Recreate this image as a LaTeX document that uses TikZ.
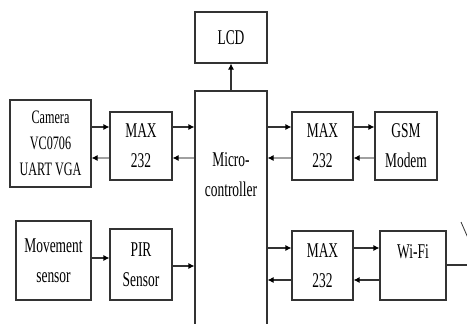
\documentclass[tikz,border=0pt]{standalone}
\usepackage{fontspec}
\setmainfont[FakeStretch=0.64]{Liberation Serif}
\usetikzlibrary{arrows.meta}
\definecolor{edge}{HTML}{333333}
\definecolor{back}{HTML}{A0A0A0}
\tikzset{
  blk/.style={draw=edge, line width=1.1pt, inner sep=0pt, align=center,
    font=\fontsize{21}{30}\selectfont},
  txt/.style={inner sep=0pt, align=center, font=\fontsize{21}{30}\selectfont},
  fwd/.style={draw=edge, line width=1.1pt, -{Latex[length=6pt,width=6pt,color=black]}},
  bwd/.style={draw=back, line width=1.1pt, -{Latex[length=6pt,width=6pt,color=black]}},
}
\begin{document}
\begin{tikzpicture}[x=1pt,y=-1pt]
\useasboundingbox (0,0) rectangle (467,324);
% boxes
\node[blk, minimum width=72pt, minimum height=51pt] (lcd) at (231,37.5) {LCD};
\node[blk, minimum width=72pt, minimum height=239pt] (micro) at (231,210.5) {};
\node[txt] (microtxt) at (231,175) {Micro-\\controller};
\node[blk, minimum width=81pt, minimum height=87pt, font=\fontsize{19}{26}\selectfont] (cam) at (50.5,143.5) {Camera\\VC0706\\UART VGA};
\node[blk, minimum width=62pt, minimum height=68pt] (max1) at (141,146) {MAX\\232};
\node[blk, minimum width=61pt, minimum height=68pt] (max2) at (322.5,146) {MAX\\232};
\node[blk, minimum width=62pt, minimum height=68pt] (gsm) at (406,146) {GSM\\Modem};
\node[blk, minimum width=75pt, minimum height=79pt] (mov) at (53.5,260.5) {Movement\\sensor};
\node[blk, minimum width=62pt, minimum height=71pt] (pir) at (141,264.5) {PIR\\Sensor};
\node[blk, minimum width=61pt, minimum height=69pt] (max3) at (322.5,265.5) {MAX\\232};
\node[blk, minimum width=66pt, minimum height=69pt] (wifi) at (413,265.5) {};
\node[txt] (wifitxt) at (413,252) {Wi-Fi};
% row coordinates
\coordinate (r1) at (0,127);
\coordinate (r2) at (0,158);
\coordinate (r3) at (0,258);
\coordinate (r4) at (0,266);
\coordinate (r5) at (0,248);
\coordinate (r6) at (0,280);
\coordinate (antA) at (467,265);
\coordinate (antB) at (461,222);
\coordinate (antC) at (468,238);
% connectors
\draw[fwd] (micro.north) -- (lcd.south);
\draw[fwd] (cam.east |- r1) -- (max1.west |- r1);
\draw[fwd] (max1.east |- r1) -- (micro.west |- r1);
\draw[bwd] (max1.west |- r2) -- (cam.east |- r2);
\draw[bwd] (micro.west |- r2) -- (max1.east |- r2);
\draw[fwd] (micro.east |- r1) -- (max2.west |- r1);
\draw[fwd] (max2.east |- r1) -- (gsm.west |- r1);
\draw[bwd] (max2.west |- r2) -- (micro.east |- r2);
\draw[bwd] (gsm.west |- r2) -- (max2.east |- r2);
\draw[fwd] (mov.east |- r3) -- (pir.west |- r3);
\draw[fwd] (pir.east |- r4) -- (micro.west |- r4);
\draw[fwd] (micro.east |- r5) -- (max3.west |- r5);
\draw[fwd] (max3.east |- r5) -- (wifi.west |- r5);
\draw[fwd] (max3.west |- r6) -- (micro.east |- r6);
\draw[fwd] (wifi.west |- r6) -- (max3.east |- r6);
\draw[draw=edge, line width=1.1pt] (wifi.east |- antA) -- (antA);
\draw[draw=edge, line width=0.8pt] (antB) -- (antC);
\end{tikzpicture}
\end{document}
